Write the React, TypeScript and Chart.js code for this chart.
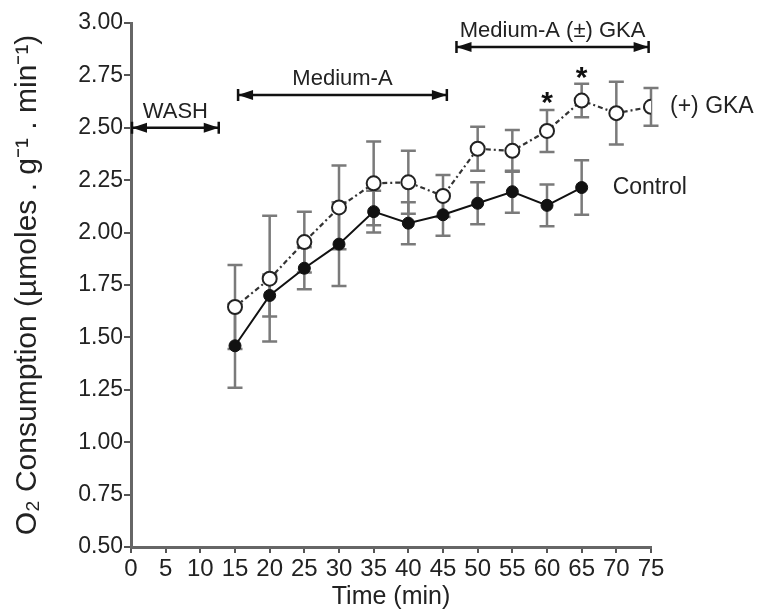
import React, { useEffect, useRef } from "react";
import { Chart, registerables } from "chart.js";

Chart.register(...registerables);

// ---- data ----
const controlTimes = [15, 20, 25, 30, 35, 40, 45, 50, 55, 60, 65];
const controlMean = [1.46, 1.7, 1.83, 1.945, 2.1, 2.045, 2.085, 2.14, 2.195, 2.13, 2.215];
const controlSem = [0.2, 0.1, 0.1, 0.2, 0.1, 0.1, 0.1, 0.1, 0.1, 0.1, 0.13];

const gkaTimes = [15, 20, 25, 30, 35, 40, 45, 50, 55, 60, 65, 70, 75];
const gkaMean = [1.645, 1.78, 1.955, 2.12, 2.235, 2.24, 2.175, 2.4, 2.39, 2.485, 2.63, 2.57, 2.6];
const gkaSem = [0.2, 0.3, 0.145, 0.2, 0.2, 0.15, 0.1, 0.105, 0.1, 0.1, 0.08, 0.15, 0.09];

const seriesNames = ["Control", "(+) GKA"];

const phaseLabels = ["WASH", "Medium-A", "Medium-A (\u00B1) GKA"];
const phaseStart = [0, 15.3, 46.8];
const phaseEnd = [12.8, 45.7, 74.8];
const phaseLevel = [2.5, 2.657, 2.885];

const starTimes = [60, 65];
const starLevels = [2.657, 2.776];

const xMin = 0;
const xMax = 75;
const xStep = 5;
const yMin = 0.5;
const yMax = 3.0;
const yStep = 0.25;

const xTitle = "Time (min)";
const yTitle = "O\u2082 Consumption (\u00B5moles . g\u207B\u00B9 . min\u207B\u00B9)";

const FONT = "'Liberation Sans', Arial, Helvetica, sans-serif";

const annotationPlugin = {
  id: "annotations",
  beforeDatasetsDraw(chart: any) {
    const ctx = chart.ctx;
    const xs = chart.scales.x;
    const ys = chart.scales.y;
    ctx.save();
    ctx.strokeStyle = "#7a7a7a";
    ctx.lineWidth = 2.5;
    const drawErr = (times: number[], mean: number[], sem: number[]) => {
      times.forEach((t, i) => {
        const x = xs.getPixelForValue(t);
        const y1 = ys.getPixelForValue(mean[i] - sem[i]);
        const y2 = ys.getPixelForValue(mean[i] + sem[i]);
        ctx.beginPath();
        ctx.moveTo(x, y1);
        ctx.lineTo(x, y2);
        ctx.moveTo(x - 7.5, y1);
        ctx.lineTo(x + 7.5, y1);
        ctx.moveTo(x - 7.5, y2);
        ctx.lineTo(x + 7.5, y2);
        ctx.stroke();
      });
    };
    drawErr(gkaTimes, gkaMean, gkaSem);
    drawErr(controlTimes, controlMean, controlSem);
    ctx.restore();
  },
  afterDatasetsDraw(chart: any) {
    const ctx = chart.ctx;
    const xs = chart.scales.x;
    const ys = chart.scales.y;
    ctx.save();
    // phase arrows
    phaseLabels.forEach((label, i) => {
      const x1 = xs.getPixelForValue(phaseStart[i]);
      const x2 = xs.getPixelForValue(phaseEnd[i]);
      const y = ys.getPixelForValue(phaseLevel[i]);
      ctx.strokeStyle = "#111";
      ctx.fillStyle = "#111";
      ctx.lineWidth = 2.5;
      ctx.beginPath();
      ctx.moveTo(x1, y);
      ctx.lineTo(x2, y);
      ctx.moveTo(x1 + 1, y - 6);
      ctx.lineTo(x1 + 1, y + 6);
      ctx.moveTo(x2 - 1, y - 6);
      ctx.lineTo(x2 - 1, y + 6);
      ctx.stroke();
      const L = 15;
      const H = 5;
      ctx.beginPath();
      ctx.moveTo(x1 + 1, y);
      ctx.lineTo(x1 + 1 + L, y - H);
      ctx.lineTo(x1 + 1 + L, y + H);
      ctx.closePath();
      ctx.fill();
      ctx.beginPath();
      ctx.moveTo(x2 - 1, y);
      ctx.lineTo(x2 - 1 - L, y - H);
      ctx.lineTo(x2 - 1 - L, y + H);
      ctx.closePath();
      ctx.fill();
      ctx.font = `22px ${FONT}`;
      ctx.fillStyle = "#222";
      ctx.textAlign = "center";
      ctx.textBaseline = "alphabetic";
      ctx.fillText(label, (x1 + x2) / 2, y - 10);
    });
    // significance stars
    ctx.font = `bold 30px ${FONT}`;
    ctx.fillStyle = "#111";
    ctx.textAlign = "center";
    ctx.textBaseline = "alphabetic";
    starTimes.forEach((t, i) => {
      const x = xs.getPixelForValue(t);
      const y = ys.getPixelForValue(starLevels[i]);
      ctx.fillText("*", x, y + 0.58 * 30);
    });
    // series labels
    ctx.font = `23px ${FONT}`;
    ctx.fillStyle = "#222";
    ctx.textAlign = "left";
    ctx.textBaseline = "middle";
    const gx = xs.getPixelForValue(gkaTimes[gkaTimes.length - 1]) + 19;
    const gy = ys.getPixelForValue(gkaMean[gkaMean.length - 1]);
    ctx.fillText(seriesNames[1], gx, gy);
    const cx = xs.getPixelForValue(controlTimes[controlTimes.length - 1]) + 31;
    const cy = ys.getPixelForValue(controlMean[controlMean.length - 1]);
    ctx.fillText(seriesNames[0], cx, cy);
    ctx.restore();
  },
};

export default function App() {
  const canvasRef = useRef<HTMLCanvasElement | null>(null);

  useEffect(() => {
    if (!canvasRef.current) return;
    Chart.defaults.font.family = FONT;
    const chart = new Chart(canvasRef.current, {
      type: "line",
      data: {
        datasets: [
          {
            label: seriesNames[0],
            data: controlTimes.map((t, i) => ({ x: t, y: controlMean[i] })),
            borderColor: "#111",
            borderWidth: 2,
            pointRadius: 6,
            pointBackgroundColor: "#111",
            pointBorderColor: "#111",
            pointBorderWidth: 1,
            tension: 0,
          },
          {
            label: seriesNames[1],
            data: gkaTimes.map((t, i) => ({ x: t, y: gkaMean[i] })),
            borderColor: "#333",
            borderWidth: 2.2,
            borderDash: [5, 3, 2, 3],
            pointRadius: 7,
            pointBackgroundColor: "#fff",
            pointBorderColor: "#222",
            pointBorderWidth: 2,
            tension: 0,
          },
        ],
      },
      options: {
        animation: false,
        responsive: false,
        layout: { padding: { left: 0, right: 108, top: 23, bottom: 0 } },
        plugins: {
          legend: { display: false },
          tooltip: { enabled: false },
        },
        scales: {
          x: {
            type: "linear",
            min: xMin,
            max: xMax,
            afterFit(scale: any) {
              scale.height = 65;
            },
            ticks: {
              stepSize: xStep,
              autoSkip: false,
              maxRotation: 0,
              minRotation: 0,
              padding: 2,
              color: "#222",
              font: { size: 24, family: FONT },
            },
            grid: {
              drawOnChartArea: false,
              drawTicks: true,
              tickLength: 6,
              color: "#555",
              lineWidth: 2,
            },
            border: { display: true, color: "#666", width: 3 },
            title: {
              display: true,
              text: xTitle,
              color: "#222",
              font: { size: 25, family: FONT },
              padding: { top: 0, bottom: 0 },
            },
          },
          y: {
            type: "linear",
            min: yMin,
            max: yMax,
            afterFit(scale: any) {
              scale.width = 131;
            },
            ticks: {
              stepSize: yStep,
              padding: 1,
              color: "#222",
              font: { size: 23, family: FONT },
              callback: (v: any) => Number(v).toFixed(2),
            },
            grid: {
              drawOnChartArea: false,
              drawTicks: true,
              tickLength: 7,
              color: "#555",
              lineWidth: 2,
            },
            border: { display: true, color: "#666", width: 3 },
            title: {
              display: true,
              text: yTitle,
              color: "#222",
              font: { size: 30, family: FONT },
              padding: { top: 10, bottom: 0 },
            },
          },
        },
      },
      plugins: [annotationPlugin],
    });
    return () => chart.destroy();
  }, []);

  return (
    <div style={{ position: "fixed", left: 0, top: 0, width: 759, height: 612, background: "#fff" }}>
      <canvas ref={canvasRef} width={759} height={612} style={{ display: "block" }} />
    </div>
  );
}
